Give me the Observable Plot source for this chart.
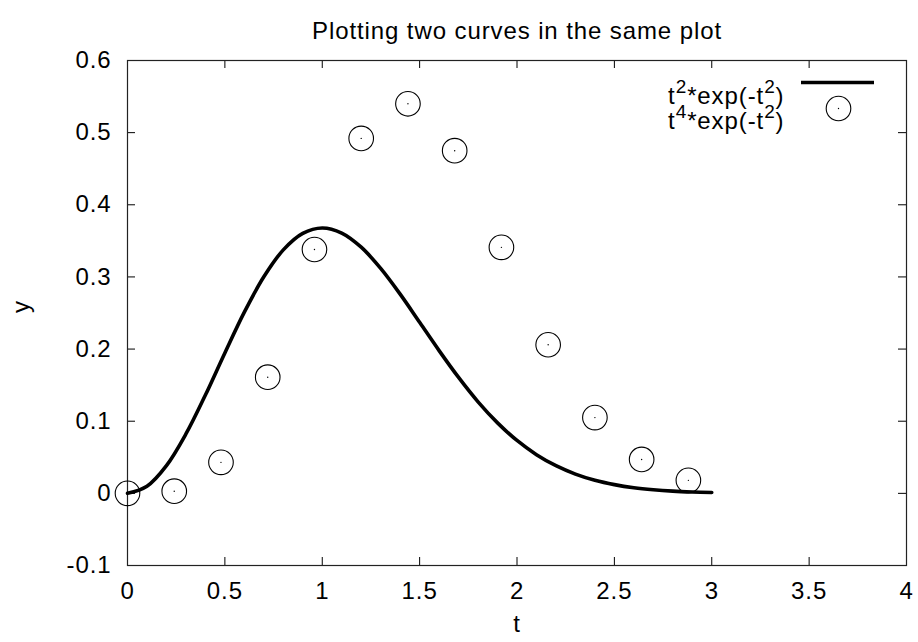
<!DOCTYPE html>
<html>
<head>
<meta charset="utf-8">
<script src="https://cdn.jsdelivr.net/npm/d3@7"></script>
<script src="https://cdn.jsdelivr.net/npm/@observablehq/plot@0.6"></script>
<style>
  html, body { margin: 0; padding: 0; background: #fff; }
</style>
</head>
<body>
<div id="chart"></div>
<script>
// ---- data ----
const title = "Plotting two curves in the same plot";
const xLabel = "t";
const yLabel = "y";
const lineName = "t^2*exp(-t^2)";
const pointName = "t^4*exp(-t^2)";

const lineT = [0, 0.1, 0.2, 0.3, 0.4, 0.5, 0.6, 0.7, 0.8, 0.9, 1.0, 1.1, 1.2, 1.3, 1.4, 1.5,
               1.6, 1.7, 1.8, 1.9, 2.0, 2.1, 2.2, 2.3, 2.4, 2.5, 2.6, 2.7, 2.8, 2.9, 3.0];
const lineY = [0, 0.0099, 0.0384, 0.0823, 0.1363, 0.1947, 0.2512, 0.3002, 0.3375, 0.3604, 0.3679,
               0.3608, 0.3412, 0.3118, 0.2761, 0.2371, 0.1979, 0.1607, 0.1269, 0.0977, 0.0733,
               0.0536, 0.0383, 0.0267, 0.0181, 0.0121, 0.0078, 0.0050, 0.0031, 0.0019, 0.0011];

const pointT = [0, 0.24, 0.48, 0.72, 0.96, 1.2, 1.44, 1.68, 1.92, 2.16, 2.4, 2.64, 2.88];
const pointY = [0, 0.003, 0.043, 0.161, 0.338, 0.492, 0.540, 0.475, 0.341, 0.206, 0.105, 0.047, 0.018];

const xTicks = [0, 0.5, 1, 1.5, 2, 2.5, 3, 3.5, 4];
const yTicks = [-0.1, 0, 0.1, 0.2, 0.3, 0.4, 0.5, 0.6];

// ---- tables built from the arrays ----
const lineData = lineT.map((t, i) => ({t, y: lineY[i]}));
const pointData = pointT.map((t, i) => ({t, y: pointY[i]}));

const W = 918, H = 642;
const mL = 127, mR = 12, mT = 60, mB = 77;
const plotW = W - mL - mR, plotH = H - mT - mB;
const TICK = 8;
const fmt = d => String(d);

const chart = Plot.plot({
  width: W,
  height: H,
  marginLeft: mL,
  marginRight: mR,
  marginTop: mT,
  marginBottom: mB,
  style: {
    fontFamily: "'Liberation Sans', Arial, Helvetica, sans-serif",
    fontSize: "24px",
    color: "black",
    background: "white",
    letterSpacing: "0.9px"
  },
  x: {domain: [xTicks[0], xTicks[xTicks.length - 1]]},
  y: {domain: [yTicks[0], yTicks[yTicks.length - 1]]},
  marks: [
    // inward ticks on all four sides
    Plot.tickX(xTicks, {x: d => d, stroke: "black", insetTop: plotH - TICK}),
    Plot.tickX(xTicks, {x: d => d, stroke: "black", insetBottom: plotH - TICK}),
    Plot.tickY(yTicks, {y: d => d, stroke: "black", insetRight: plotW - TICK}),
    Plot.tickY(yTicks, {y: d => d, stroke: "black", insetLeft: plotW - TICK}),
    // tick labels
    Plot.axisX({ticks: xTicks, tickSize: 0, tickPadding: 16, tickFormat: fmt, label: null}),
    Plot.axisY({ticks: yTicks, tickSize: 0, tickPadding: 16, tickFormat: fmt, label: null}),
    Plot.frame({stroke: "#222", strokeWidth: 1.2}),
    // data
    Plot.line(lineData, {x: "t", y: "y", stroke: "black", strokeWidth: 3.6, curve: "catmull-rom"}),
    Plot.dot(pointData, {x: "t", y: "y", r: 12.3, stroke: "black", strokeWidth: 1.1, fill: "none"}),
    Plot.dot(pointData, {x: "t", y: "y", r: 0.7, fill: "black", stroke: "none"}),
    // legend
    Plot.text([lineName], {text: d => d, frameAnchor: "top-right", dx: -122, dy: 26, textAnchor: "end"}),
    Plot.text([pointName], {text: d => d, frameAnchor: "top-right", dx: -122, dy: 51, textAnchor: "end"}),
    Plot.ruleY([yTicks[yTicks.length - 1]], {stroke: "black", strokeWidth: 3.6, dy: 22,
      insetLeft: 801 - mL, insetRight: W - mR - 874}),
    Plot.dot([pointName], {frameAnchor: "top-right", dx: -68, dy: 48, r: 12.3, stroke: "black", strokeWidth: 1.1, fill: "none"}),
    Plot.dot([pointName], {frameAnchor: "top-right", dx: -68, dy: 48, r: 0.7, fill: "black", stroke: "none"}),
    // title and axis labels
    Plot.text([title], {text: d => d, frameAnchor: "top", dy: -39}),
    Plot.text([xLabel], {text: d => d, frameAnchor: "bottom", dy: 66}),
    Plot.text([yLabel], {text: d => d, frameAnchor: "left", dx: -106, rotate: -90})
  ]
});

// superscripts in legend labels (t^2 -> t with raised 2)
chart.querySelectorAll("text").forEach(el => {
  const s = el.textContent;
  if (!s.includes("^")) return;
  el.textContent = "";
  const parts = s.split(/\^(\d)/);
  parts.forEach((p, i) => {
    const ts = document.createElementNS("http://www.w3.org/2000/svg", "tspan");
    ts.textContent = p;
    if (i % 2 === 1) { ts.setAttribute("dy", "-11"); ts.setAttribute("font-size", "19"); }
    else if (i > 0) { ts.setAttribute("dy", "11"); }
    el.appendChild(ts);
  });
});

document.getElementById("chart").appendChild(chart);
</script>
</body>
</html>
